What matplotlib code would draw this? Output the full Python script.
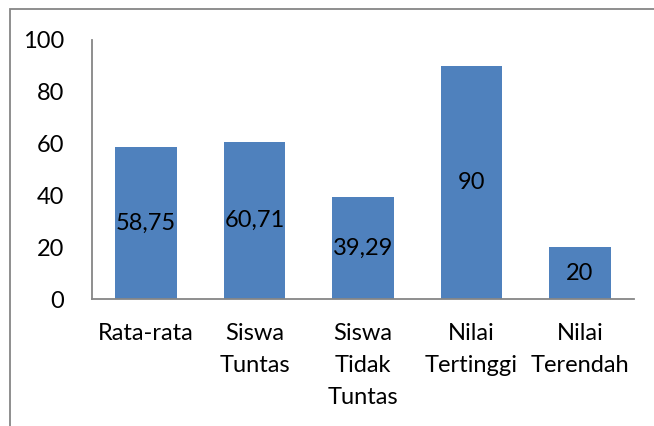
import matplotlib
matplotlib.use("Agg")
import matplotlib.pyplot as plt
from matplotlib.patches import Rectangle

categories = ["Rata-rata", "Siswa\nTuntas", "Siswa\nTidak\nTuntas", "Nilai\nTertinggi", "Nilai\nTerendah"]
values = [58.75, 60.71, 39.29, 90, 20]
value_labels = ["58,75", "60,71", "39,29", "90", "20"]
yticks = [0, 20, 40, 60, 80, 100]

plt.rcParams['font.family'] = ['Lato', 'DejaVu Sans']
fig = plt.figure(figsize=(6.54, 4.26), dpi=100)
ax = fig.add_axes([92/654, 1-299/426, (634-92)/654, (299-40)/426])

x = list(range(len(categories)))
bars = ax.bar(x, values, width=0.57, color="#4F81BD")
for b, lab in zip(bars, value_labels):
    ax.text(b.get_x() + b.get_width()/2, b.get_height()/2, lab, ha="center", va="center",
            fontsize=17, color="black")

ax.set_xlim(-0.5, len(categories) - 0.5)
ax.set_ylim(0, 100)
ax.set_yticks(yticks)
ax.set_yticklabels([str(v) for v in yticks], fontsize=17)
ax.set_xticks(x)
ax.set_xticklabels(categories, fontsize=17, linespacing=1.65)
ax.tick_params(axis="both", length=0)
ax.tick_params(axis="y", pad=20)
ax.tick_params(axis="x", pad=17)
for s in ["top", "right"]:
    ax.spines[s].set_visible(False)
for s in ["left", "bottom"]:
    ax.spines[s].set_color("#868686")
    ax.spines[s].set_linewidth(1.3)

fig.patches.append(Rectangle((10/654, -0.5), 2, 0.5 + 1 - 9/426, transform=fig.transFigure,
                             fill=False, edgecolor="#868686", linewidth=1.3))

fig.savefig("out.png", dpi=100, facecolor="white")
